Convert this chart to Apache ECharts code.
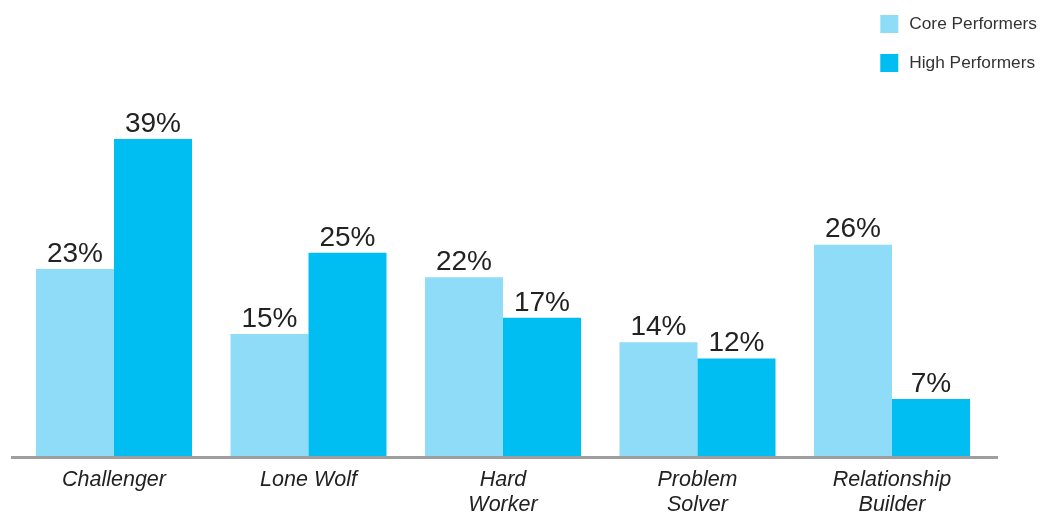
<!DOCTYPE html>
<html>
<head>
<meta charset="utf-8">
<script src="https://cdn.jsdelivr.net/npm/echarts@6/dist/echarts.min.js"></script>
<style>
html,body{margin:0;padding:0;background:#fff;}
#c{width:1046px;height:515px;}
</style>
</head>
<body>
<div id="c"></div>
<script>
var categories = ["Challenger", "Lone Wolf", "Hard\nWorker", "Problem\nSolver", "Relationship\nBuilder"];
var seriesNames = ["Core Performers", "High Performers"];
var corePerformers = [23, 15, 22, 14, 26];
var highPerformers = [39, 25, 17, 12, 7];

var FONT = '"Liberation Sans", Arial, sans-serif';
var chart = echarts.init(document.getElementById('c'), null, {renderer: 'canvas'});
var labelStyle = {
  show: true,
  position: 'top',
  distance: 1,
  formatter: '{c}%',
  fontFamily: FONT,
  fontSize: 28,
  lineHeight: 28,
  color: '#222'
};
chart.setOption({
  animation: false,
  backgroundColor: '#fff',
  legend: {
    orient: 'vertical',
    right: 4,
    top: 10,
    itemWidth: 18,
    itemHeight: 18,
    itemGap: 21,
    itemStyle: {borderWidth: 0},
    icon: 'rect',
    textStyle: {fontFamily: FONT, fontSize: 17.3, color: '#333', padding: [0, 0, 0, 6]},
    data: seriesNames
  },
  grid: {left: 16.75, right: 56.75, top: 49.6, height: 406.4, outerBoundsMode: 'none', containLabel: false},
  xAxis: {
    type: 'category',
    data: categories,
    axisLine: {show: false},
    axisTick: {show: false},
    axisLabel: {
      margin: 12,
      fontFamily: FONT,
      fontStyle: 'italic',
      fontSize: 21.5,
      lineHeight: 25,
      color: '#222'
    }
  },
  yAxis: {type: 'value', min: 0, max: 50, show: false, splitLine: {show: false}},
  graphic: [{
    type: 'line',
    shape: {x1: 11, y1: 457.5, x2: 998, y2: 457.5},
    style: {stroke: '#9e9e9e', lineWidth: 3},
    z: 10
  }],
  series: [
    {name: seriesNames[0], type: 'bar', data: corePerformers, barWidth: 78, barGap: '0%',
     itemStyle: {color: '#8EDCF8'}, label: labelStyle},
    {name: seriesNames[1], type: 'bar', data: highPerformers, barWidth: 78, barGap: '0%',
     itemStyle: {color: '#00BDF2'}, label: labelStyle}
  ]
});
</script>
</body>
</html>
